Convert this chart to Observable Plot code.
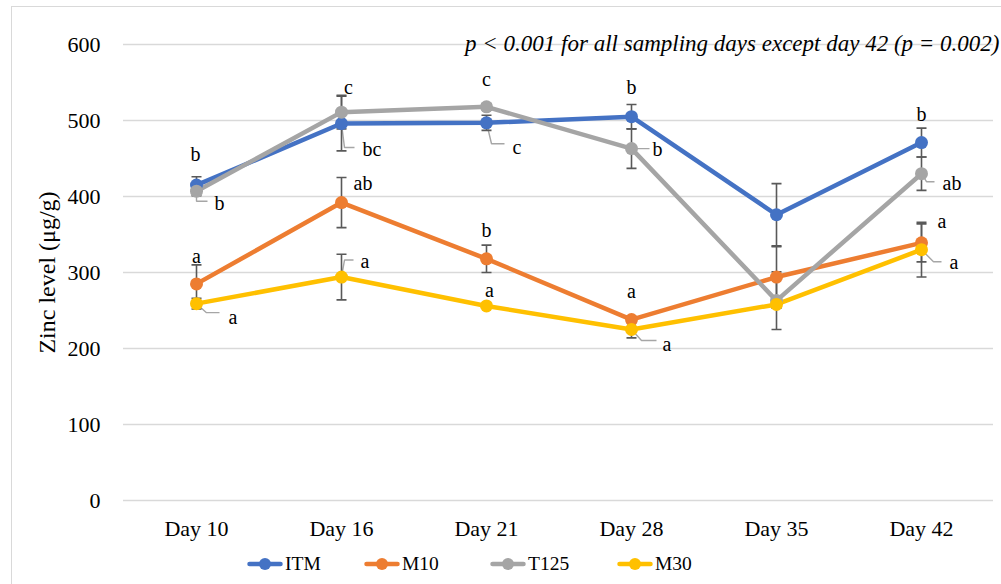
<!DOCTYPE html>
<html>
<head>
<meta charset="utf-8">
<script src="https://cdn.jsdelivr.net/npm/d3@7"></script>
<script src="https://cdn.jsdelivr.net/npm/@observablehq/plot@0.6"></script>
<style>
  html, body { margin: 0; padding: 0; background: #fff; overflow: hidden; }
  #wrap { position: relative; width: 1001px; height: 584px; font-family: "Liberation Serif", serif; }
  #frame { position: absolute; left: 11px; top: 6px; width: 1200px; height: 800px; border-left: 1.5px solid #d9d9d9; border-top: 1.5px solid #d9d9d9; box-sizing: border-box; }
  #chart { position: absolute; left: 0; top: 0; }
  #legend { position: absolute; left: 0; top: 548px; width: 1001px; height: 32px; font-size: 19.5px; color: #000; font-family: "Liberation Serif", serif; }
  .item { position: absolute; top: 0; height: 32px; display: flex; align-items: center; gap: 2px; }
</style>
</head>
<body>
<div id="wrap">
  <div id="frame"></div>
  <div id="chart"></div>
  <div id="legend"></div>
</div>
<script>
// ---- data ----
const days = ["Day 10", "Day 16", "Day 21", "Day 28", "Day 35", "Day 42"];
const seriesNames = ["ITM", "M10", "T125", "M30"];
const seriesColors = ["#4472C4", "#ED7D31", "#A5A5A5", "#FFC000"];
const yTicks = [0, 100, 200, 300, 400, 500, 600];

const itmValues  = [415, 496, 497, 505, 376, 471];
const m10Values  = [285, 392, 318, 238, 294, 339];
const t125Values = [407, 511, 518, 463, 263, 430];
const m30Values  = [259, 294, 256, 225, 258, 330];

const itmErrors  = [11, 36, 10, 16, 41, 19];
const m10Errors  = [25, 33, 18, 4, 40, 25];
const t125Errors = [6, 22, 4, 26, 38, 22];
const m30Errors  = [7, 30, 3, 11, 5, 36];

const itmLetters  = ["b", "bc", "c", "b", "", "b"];
const m10Letters  = ["a", "ab", "b", "a", "", "a"];
const t125Letters = ["b", "c", "c", "b", "", "ab"];
const m30Letters  = ["a", "a", "a", "a", "", "a"];

const noteText = "p < 0.001 for all sampling days except day 42 (p = 0.002)";
const yLabel = "Zinc level (μg/g)";

// ---- table built from arrays ----
const valuesBy = {ITM: itmValues, M10: m10Values, T125: t125Values, M30: m30Values};
const errorsBy = {ITM: itmErrors, M10: m10Errors, T125: t125Errors, M30: m30Errors};
const lettersBy = {ITM: itmLetters, M10: m10Letters, T125: t125Letters, M30: m30Letters};
const rows = [];
for (const s of seriesNames) {
  days.forEach((d, i) => rows.push({series: s, day: d, i, value: valuesBy[s][i], err: errorsBy[s][i], letter: lettersBy[s][i]}));
}

// ---- annotation layout (pixel offsets from each point) ----
const labelLayout = {
  ITM:  [{dx: -1, dy: -31}, {dx: 21, dy: 26, a: "start", leader: [3, 24, 13]}, {dx: 26, dy: 25, a: "start", leader: [5, 21, 18]}, {dx: 0, dy: -29}, null, {dx: 0, dy: -28}],
  M10:  [{dx: 0, dy: -27}, {dx: 12, dy: -19, a: "start"}, {dx: 0, dy: -28}, {dx: 0, dy: -28}, null, {dx: 16, dy: -21, a: "start"}],
  T125: [{dx: 18, dy: 12, a: "start", leader: [0, 10, 11]}, {dx: 7, dy: -25}, {dx: 0, dy: -27}, {dx: 21, dy: 1, a: "start", leader: [10, 0, 18]}, null, {dx: 21, dy: 10, a: "start", leader: [5, 8, 13]}],
  M30:  [{dx: 32, dy: 14, a: "start", leader: [10, 9, 23]}, {dx: 19, dy: -15, a: "start", leader: [3, -17, 12]}, {dx: 3, dy: -15}, {dx: 31, dy: 15, a: "start", leader: [10, 11, 25]}, null, {dx: 28, dy: 13, a: "start", leader: [12, 12, 20]}]
};

// custom curve: leader line from the point
function leaderCurve(ax, ay, bx) {
  return (ctx) => {
    let n = 0;
    return {
      lineStart() { n = 0; }, lineEnd() {}, areaStart() {}, areaEnd() {},
      point(x, y) {
        if (n++ === 0) { ctx.moveTo(x, y); ctx.lineTo(x + ax, y + ay); ctx.lineTo(x + bx, y + ay); }
      }
    };
  };
}
// custom curve: I-beam error bar
function errorBarCurve(cap) {
  return (ctx) => {
    let n = 0, x0, y0;
    return {
      lineStart() { n = 0; }, lineEnd() {}, areaStart() {}, areaEnd() {},
      point(x, y) {
        if (n++ === 0) { x0 = x; y0 = y; }
        else {
          ctx.moveTo(x0 - cap, y0); ctx.lineTo(x0 + cap, y0);
          ctx.moveTo(x0, y0); ctx.lineTo(x, y);
          ctx.moveTo(x - cap, y); ctx.lineTo(x + cap, y);
        }
      }
    };
  };
}

const leaderMarks = [];
const labelMarks = [];
for (const r of rows) {
  const L = labelLayout[r.series][r.i];
  if (!L || !r.letter) continue;
  if (L.leader) {
    leaderMarks.push(Plot.link([r], {x1: "day", x2: "day", y1: "value", y2: "value", stroke: "#a6a6a6", strokeWidth: 1.4, curve: leaderCurve(...L.leader)}));
  }
  labelMarks.push(Plot.text([r], {x: "day", y: "value", text: "letter", dx: L.dx, dy: L.dy, textAnchor: L.a || "middle", fontSize: 20, fill: "#000"}));
}

const chart = Plot.plot({
  width: 1001,
  height: 548,
  marginLeft: 123,
  marginRight: 8,
  marginTop: 44,
  marginBottom: 48,
  style: {fontFamily: "Liberation Serif, serif", fontSize: "22px", color: "#000", background: "transparent", overflow: "visible"},
  x: {type: "point", domain: days, padding: 0.5, label: null, tickSize: 0, tickPadding: 20},
  y: {domain: [0, 600], ticks: yTicks, label: null, tickSize: 0, tickPadding: 23},
  color: {domain: seriesNames, range: seriesColors},
  marks: [
    Plot.gridY(yTicks, {stroke: "#d9d9d9", strokeOpacity: 1, strokeWidth: 1.4}),
    Plot.text([yLabel], {frameAnchor: "left", text: d => d, rotate: -90, textAnchor: "middle", dx: -76, fontSize: 24}),
    Plot.line(rows, {x: "day", y: "value", z: "series", stroke: "series", strokeWidth: 4.5, strokeLinejoin: "round", strokeLinecap: "round"}),
    ...leaderMarks,
    Plot.link(rows, {x1: "day", x2: "day", y1: d => d.value - d.err, y2: d => d.value + d.err, stroke: "#595959", strokeWidth: 1.6, curve: errorBarCurve(5)}),
    Plot.dot(rows, {x: "day", y: "value", fill: "series", r: 6.5}),
    ...labelMarks,
    Plot.text([noteText], {frameAnchor: "top-right", text: d => d, textAnchor: "end", dx: 6, dy: -10, fontStyle: "italic", fontSize: 23})
  ]
});
document.getElementById("chart").appendChild(chart);

// ---- legend ----
const legend = document.getElementById("legend");
const legendLeft = [247, 364, 490, 617];
seriesNames.forEach((s, k) => {
  const item = document.createElement("div");
  item.className = "item";
  item.style.left = legendLeft[k] + "px";
  const c = seriesColors[k];
  item.innerHTML = `<svg width="36" height="14"><line x1="2.5" y1="7" x2="33.5" y2="7" stroke="${c}" stroke-width="4.5" stroke-linecap="round"/><circle cx="18" cy="7" r="6" fill="${c}"/></svg><span>${s}</span>`;
  legend.appendChild(item);
});
</script>
</body>
</html>
